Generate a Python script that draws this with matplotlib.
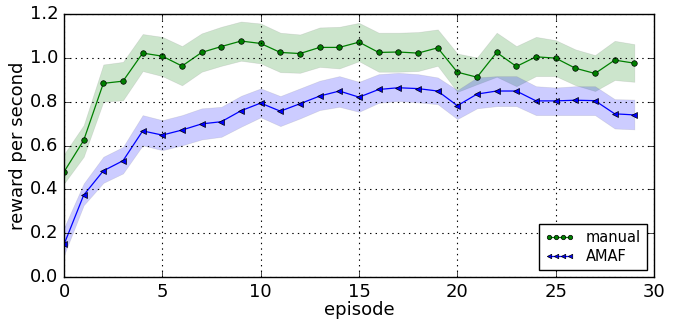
import matplotlib
matplotlib.use("Agg")
import matplotlib.pyplot as plt
import numpy as np

plt.style.use('classic')

episodes = list(range(30))
manual = [0.48, 0.624, 0.884, 0.894, 1.022, 1.008, 0.963, 1.025, 1.052, 1.077,
          1.066, 1.025, 1.020, 1.048, 1.048, 1.072, 1.025, 1.027, 1.022, 1.046,
          0.935, 0.912, 1.025, 0.961, 1.005, 0.999, 0.953, 0.929, 0.990, 0.976]
manual_hi = [0.561, 0.693, 0.970, 0.982, 1.109, 1.096, 1.054, 1.112, 1.142, 1.166,
             1.157, 1.115, 1.107, 1.139, 1.142, 1.160, 1.115, 1.115, 1.118, 1.130,
             1.020, 1.002, 1.115, 1.054, 1.096, 1.081, 1.039, 1.013, 1.078, 1.063]
manual_lo = [0.427, 0.549, 0.800, 0.807, 0.940, 0.917, 0.875, 0.937, 0.964, 0.987,
             0.975, 0.935, 0.932, 0.959, 0.952, 0.985, 0.937, 0.937, 0.940, 0.964,
             0.845, 0.880, 0.914, 0.871, 0.917, 0.917, 0.876, 0.849, 0.899, 0.891]
amaf = [0.149, 0.374, 0.485, 0.531, 0.667, 0.648, 0.671, 0.699, 0.709, 0.759,
        0.794, 0.757, 0.791, 0.826, 0.849, 0.821, 0.856, 0.864, 0.860, 0.849,
        0.782, 0.835, 0.849, 0.849, 0.804, 0.804, 0.807, 0.805, 0.745, 0.740]
amaf_hi = [0.225, 0.427, 0.549, 0.594, 0.739, 0.716, 0.739, 0.770, 0.777, 0.827,
           0.861, 0.826, 0.861, 0.896, 0.917, 0.891, 0.926, 0.932, 0.926, 0.911,
           0.853, 0.911, 0.917, 0.917, 0.871, 0.865, 0.871, 0.871, 0.812, 0.810]
amaf_lo = [0.100, 0.328, 0.430, 0.473, 0.601, 0.579, 0.601, 0.628, 0.640, 0.686,
           0.729, 0.689, 0.724, 0.762, 0.777, 0.754, 0.795, 0.803, 0.797, 0.789,
           0.721, 0.770, 0.780, 0.780, 0.739, 0.739, 0.739, 0.739, 0.678, 0.674]

fig = plt.figure(figsize=(6.73, 3.2), dpi=100, facecolor='white')
ax = fig.add_axes([0.0951, 0.134, 0.8767, 0.822])

ax.fill_between(episodes, manual_lo, manual_hi, facecolor='green', alpha=0.2, edgecolor='gray', linewidth=0.5)
ax.fill_between(episodes, amaf_lo, amaf_hi, facecolor='blue', alpha=0.2, edgecolor='gray', linewidth=0.5)
ax.plot(episodes, manual, color='green', marker='o', markersize=4, markeredgecolor='black',
        markerfacecolor='green', linewidth=0.9, label='manual')
ax.plot(episodes, amaf, color='blue', marker='<', markersize=4, markeredgecolor='black',
        markerfacecolor='blue', linewidth=0.9, label='AMAF')

ax.set_xlim(0, 30)
ax.set_ylim(0, 1.2)
ax.set_xticks([0, 5, 10, 15, 20, 25, 30])
ax.set_yticks([0.0, 0.2, 0.4, 0.6, 0.8, 1.0, 1.2])
ax.set_yticklabels(['0.0', '0.2', '0.4', '0.6', '0.8', '1.0', '1.2'])
ax.tick_params(labelsize=13)
ax.grid(True, color='black', linestyle=':', linewidth=0.8)
ax.set_xlabel('episode', fontsize=13, labelpad=0)
ax.set_ylabel('reward per second', fontsize=13, labelpad=2)
leg = ax.legend(loc='lower right', numpoints=4, fontsize=10.5, frameon=True,
                handlelength=2.0, borderpad=0.4, labelspacing=0.3, markerscale=0.8)

fig.savefig('out.png', dpi=100, facecolor='white')
